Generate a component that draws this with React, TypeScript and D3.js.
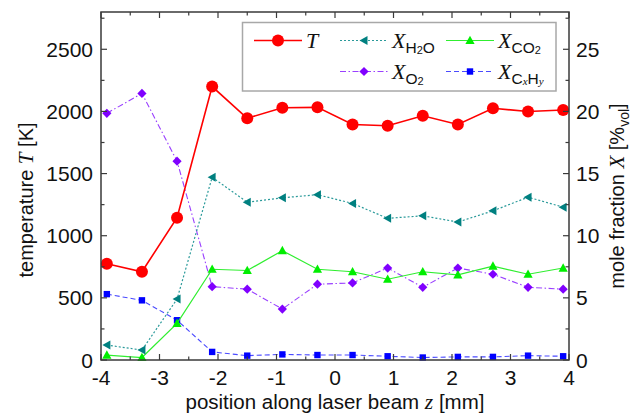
import React from "react";
import * as d3 from "d3";

// Measurement positions along the beam [mm]
const positions = [-3.9, -3.3, -2.7, -2.1, -1.5, -0.9, -0.3, 0.3, 0.9, 1.5, 2.1, 2.7, 3.3, 3.9];
// Temperature [K]
const temperature = [775, 710, 1145, 2200, 1945, 2030, 2033, 1895, 1885, 1965, 1895, 2025, 2000, 2012];
// Mole fractions [%vol]
const xH2O = [1.2, 0.8, 4.9, 14.7, 12.7, 13.05, 13.3, 12.6, 11.4, 11.6, 11.1, 12.0, 13.1, 12.3];
const xCO2 = [0.4, 0.2, 2.95, 7.3, 7.2, 8.8, 7.3, 7.1, 6.5, 7.1, 6.85, 7.55, 6.9, 7.4];
const xO2 = [19.85, 21.45, 16.0, 5.9, 5.7, 4.1, 6.1, 6.2, 7.4, 5.85, 7.4, 6.9, 5.85, 5.7];
const xCxHy = [5.3, 4.8, 3.2, 0.65, 0.35, 0.45, 0.4, 0.4, 0.3, 0.2, 0.25, 0.25, 0.35, 0.3];

const xTicks = [-4, -3, -2, -1, 0, 1, 2, 3, 4];
const tTicks = [0, 500, 1000, 1500, 2000, 2500];
const molTicks = [0, 5, 10, 15, 20, 25];

const W = 639;
const H = 414;
const L = 101, R = 569, T = 12, B = 360;

const x = d3.scaleLinear().domain([-4, 4]).range([L, R]);
const yT = d3.scaleLinear().domain([0, 2800]).range([B, T]);
const yX = d3.scaleLinear().domain([0, 28]).range([B, T]);

const SANS = "Arial, 'Liberation Sans', sans-serif";
const SERIF = "'Liberation Serif', 'Times New Roman', serif";
const AXIS = "#3a3a3a";

type Shape = "circle" | "triLeft" | "triUp" | "diamond" | "square";

function Marker({ shape, cx, cy, color }: { shape: Shape; cx: number; cy: number; color: string }) {
  if (shape === "circle") return <circle cx={cx} cy={cy} r={6} fill={color} />;
  let d = "";
  if (shape === "triLeft") d = `M${cx - 4.5},${cy} L${cx + 3.5},${cy - 4.5} L${cx + 3.5},${cy + 4.5} Z`;
  if (shape === "triUp") d = `M${cx},${cy - 4.8} L${cx - 4.6},${cy + 3.6} L${cx + 4.6},${cy + 3.6} Z`;
  if (shape === "diamond") d = `M${cx},${cy - 4.6} L${cx + 4.6},${cy} L${cx},${cy + 4.6} L${cx - 4.6},${cy} Z`;
  if (shape === "square") d = `M${cx - 3.2},${cy - 3.2} h6.4 v6.4 h-6.4 Z`;
  return <path d={d} fill={color} />;
}

interface Series {
  key: string;
  values: number[];
  scale: d3.ScaleLinear<number, number>;
  line: string;
  marker: string;
  dash: string;
  width: number;
  shape: Shape;
}

const series: Series[] = [
  { key: "CxHy", values: xCxHy, scale: yX, line: "#4a4aff", marker: "#0000ff", dash: "5,3", width: 1.1, shape: "square" },
  { key: "O2", values: xO2, scale: yX, line: "#9a40ff", marker: "#8000ff", dash: "6,2.5,1.5,2.5", width: 1.1, shape: "diamond" },
  { key: "CO2", values: xCO2, scale: yX, line: "#30ee30", marker: "#00ee00", dash: "", width: 1.2, shape: "triUp" },
  { key: "H2O", values: xH2O, scale: yX, line: "#2a9a9a", marker: "#008080", dash: "2,2", width: 1.2, shape: "triLeft" },
  { key: "T", values: temperature, scale: yT, line: "#ff0000", marker: "#ff0000", dash: "", width: 1.6, shape: "circle" },
];

function range(a: number, b: number, s: number) {
  const out: number[] = [];
  for (let v = a; v <= b + 1e-9; v += s) out.push(+v.toFixed(6));
  return out;
}

export default function App() {
  const major = 6;
  const minor = 3.5;
  const xMinor = range(-4, 4, 0.5);
  const tMinor = range(0, 2750, 250);
  const molMinor = range(0, 27.5, 2.5);

  const ticks: JSX.Element[] = [];
  xMinor.forEach((v, i) => {
    const len = Number.isInteger(v) ? major : minor;
    const px = x(v);
    ticks.push(<line key={`xb${i}`} x1={px} x2={px} y1={B} y2={B - len} />);
    ticks.push(<line key={`xt${i}`} x1={px} x2={px} y1={T} y2={T + len} />);
  });
  tMinor.forEach((v, i) => {
    const len = v % 500 === 0 ? major : minor;
    const py = yT(v);
    ticks.push(<line key={`yl${i}`} x1={L} x2={L + len} y1={py} y2={py} />);
  });
  molMinor.forEach((v, i) => {
    const len = v % 5 === 0 ? major : minor;
    const py = yX(v);
    ticks.push(<line key={`yr${i}`} x1={R} x2={R - len} y1={py} y2={py} />);
  });

  const lineGen = (s: Series) =>
    d3
      .line<number>()
      .x((_, i) => x(positions[i]))
      .y((v) => s.scale(v))(s.values) || "";

  // legend layout
  const legRow1 = 40.5;
  const legRow2 = 71.5;
  const legItems = [
    { s: series[4], x0: 254, y: legRow1 },
    { s: series[3], x0: 340, y: legRow1 },
    { s: series[2], x0: 446, y: legRow1 },
    { s: series[1], x0: 340, y: legRow2 },
    { s: series[0], x0: 446, y: legRow2 },
  ];
  const sub = 15.5;
  const sub2 = 11;

  const legendLabel = (key: string, lx: number, ly: number) => {
    const base = ly + 7;
    if (key === "T")
      return (
        <text x={lx} y={base} fontFamily={SERIF} fontStyle="italic" fontSize={22} fill="#111">
          T
        </text>
      );
    const parts: JSX.Element[] = [];
    if (key === "H2O") {
      parts.push(<tspan key="a" fontFamily={SANS} fontSize={sub} dy={5}>H</tspan>);
      parts.push(<tspan key="b" fontFamily={SANS} fontSize={sub2} dy={1}>2</tspan>);
      parts.push(<tspan key="c" fontFamily={SANS} fontSize={sub} dy={-1}>O</tspan>);
    } else if (key === "CO2") {
      parts.push(<tspan key="a" fontFamily={SANS} fontSize={sub} dy={5}>CO</tspan>);
      parts.push(<tspan key="b" fontFamily={SANS} fontSize={sub2} dy={1}>2</tspan>);
    } else if (key === "O2") {
      parts.push(<tspan key="a" fontFamily={SANS} fontSize={sub} dy={5}>O</tspan>);
      parts.push(<tspan key="b" fontFamily={SANS} fontSize={sub2} dy={1}>2</tspan>);
    } else {
      parts.push(<tspan key="a" fontFamily={SANS} fontSize={sub} dy={5}>C</tspan>);
      parts.push(<tspan key="b" fontFamily={SERIF} fontStyle="italic" fontSize={sub2} dy={1}>x</tspan>);
      parts.push(<tspan key="c" fontFamily={SANS} fontSize={sub} dy={-1}>H</tspan>);
      parts.push(<tspan key="d" fontFamily={SERIF} fontStyle="italic" fontSize={sub2} dy={1}>y</tspan>);
    }
    return (
      <text x={lx} y={base} fill="#111">
        <tspan fontFamily={SERIF} fontStyle="italic" fontSize={22}>X</tspan>
        {parts}
      </text>
    );
  };

  return (
    <svg
      width={W}
      height={H}
      viewBox={`0 0 ${W} ${H}`}
      style={{ position: "absolute", left: 0, top: 0, background: "#fff" }}
    >
      <rect x={0} y={0} width={W} height={H} fill="#fff" />

      {/* data series */}
      {series.map((s) => (
        <g key={s.key}>
          <path d={lineGen(s)} fill="none" stroke={s.line} strokeWidth={s.width} strokeDasharray={s.dash || undefined} />
          {s.values.map((v, i) => (
            <Marker key={i} shape={s.shape} cx={x(positions[i])} cy={s.scale(v)} color={s.marker} />
          ))}
        </g>
      ))}

      {/* frame and ticks */}
      <g stroke={AXIS} strokeWidth={1.2}>{ticks}</g>
      <rect x={L} y={T} width={R - L} height={B - T} fill="none" stroke={AXIS} strokeWidth={1.5} />

      {/* tick labels */}
      <g fontFamily={SANS} fontSize={21} fill="#111">
        {xTicks.map((v) => (
          <text key={`xl${v}`} x={x(v)} y={384.5} textAnchor="middle">
            {v}
          </text>
        ))}
        {tTicks.map((v) => (
          <text key={`tl${v}`} x={93} y={yT(v) + 7.5} textAnchor="end">
            {v}
          </text>
        ))}
        {molTicks.map((v) => (
          <text key={`ml${v}`} x={576} y={yX(v) + 7.5} textAnchor="start">
            {v}
          </text>
        ))}
      </g>

      {/* axis titles */}
      <text x={335} y={408.5} textAnchor="middle" fontFamily={SANS} fontSize={20.5} fill="#111">
        position along laser beam <tspan fontFamily={SERIF} fontStyle="italic" fontSize={21.5}>z</tspan> [mm]
      </text>
      <text
        transform="translate(33,200) rotate(-90)"
        textAnchor="middle"
        fontFamily={SANS}
        fontSize={20}
        fill="#111"
      >
        temperature <tspan fontFamily={SERIF} fontStyle="italic" fontSize={21}>T</tspan> [K]
      </text>
      <text
        transform="translate(624,196) rotate(-90)"
        textAnchor="middle"
        fontFamily={SANS}
        fontSize={20}
        fill="#111"
      >
        mole fraction <tspan fontFamily={SERIF} fontStyle="italic" fontSize={21}>X</tspan> [%
        <tspan fontSize={14} dy={5}>vol</tspan>
        <tspan dy={-5}>]</tspan>
      </text>

      {/* legend */}
      <rect x={242.5} y={22.5} width={313.5} height={68.5} fill="#fff" stroke="#a8a8a8" strokeWidth={1.5} />
      {legItems.map(({ s, x0, y }) => (
        <g key={`leg${s.key}`}>
          <line x1={x0} x2={x0 + 48} y1={y} y2={y} stroke={s.line} strokeWidth={s.width} strokeDasharray={s.dash || undefined} />
          <Marker shape={s.shape} cx={x0 + 24} cy={y} color={s.marker} />
          {legendLabel(s.key, x0 + 52, y)}
        </g>
      ))}
    </svg>
  );
}
